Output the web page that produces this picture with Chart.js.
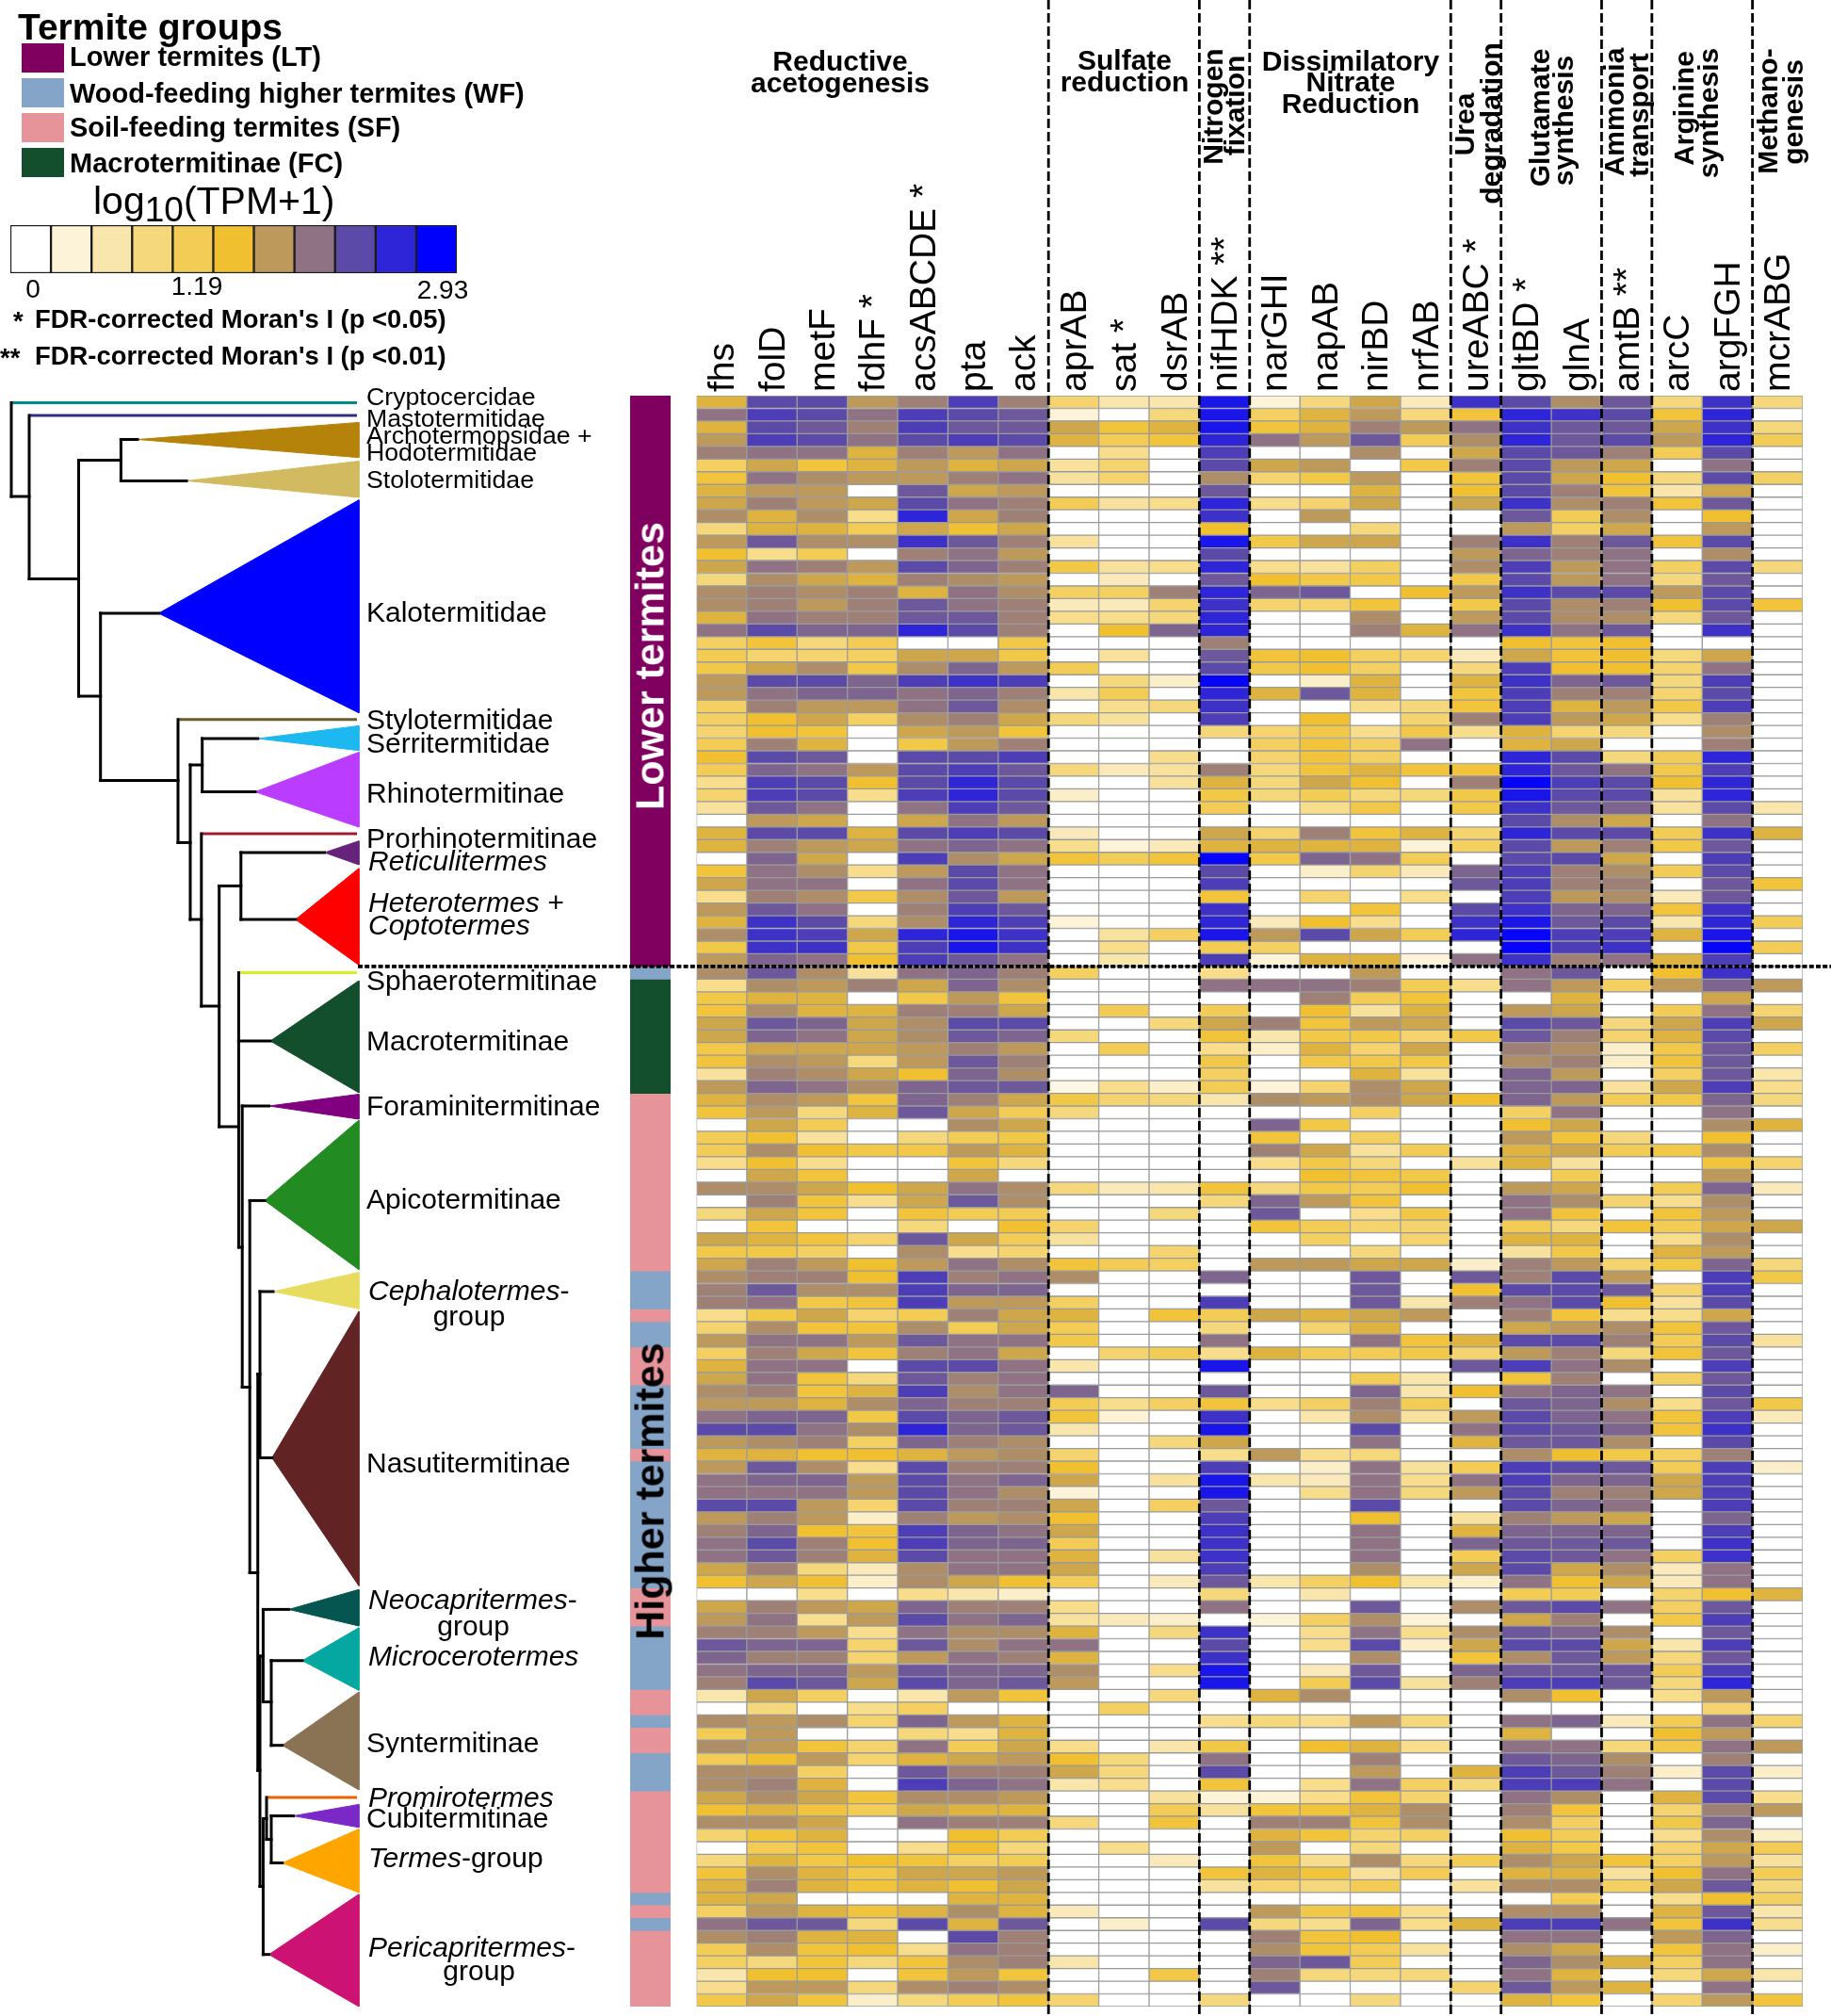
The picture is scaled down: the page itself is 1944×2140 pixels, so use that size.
<!DOCTYPE html>
<html><head><meta charset="utf-8">
<script src="https://cdn.jsdelivr.net/npm/chart.js@4"></script>
<style>
html,body{margin:0;padding:0;background:#fff;width:1944px;height:2140px;overflow:hidden;font-family:"Liberation Sans",Arial,sans-serif}
canvas{position:absolute}
.t{position:absolute;white-space:nowrap;line-height:1;color:#000;transform:translateY(-50%)}
.c{transform:translate(-50%,-50%)}
.r{transform:translate(-50%,-50%) rotate(-90deg)}
.b{font-weight:bold}
.i{font-style:italic}
</style></head><body>
<div id="page"></div>
<script>
const genes=["fhs","folD","metF","fdhF *","acsABCDE *","pta","ack","aprAB","sat *","dsrAB","nifHDK **","narGHI","napAB","nirBD","nrfAB","ureABC *","gltBD *","glnA","amtB **","arcC","argFGH","mcrABG"];
const groupBoundaries=[7,10,11,15,16,18,19,21];
// log10(TPM+1) x 10; columns follow genes
const rows=[
[16,24,24,18,20,25,20,10,6,6,28,3,9,17,5,26,24,19,23,9,26,9],
[21,25,24,21,25,24,23,3,0,9,28,11,16,18,9,14,27,26,24,14,27,0],
[16,24,23,20,25,23,23,17,14,16,28,14,16,20,18,21,26,23,23,17,26,9],
[18,25,24,21,24,25,24,16,12,14,27,21,18,23,12,19,27,23,24,18,27,12],
[20,21,21,16,20,18,21,0,8,0,25,0,0,19,0,17,24,23,20,12,24,0],
[11,17,14,16,18,16,17,7,10,0,24,17,18,0,13,20,24,18,17,0,21,0],
[14,21,19,18,18,20,21,7,10,0,19,10,13,18,0,14,24,17,15,9,24,11],
[16,18,18,0,23,17,18,0,0,0,23,0,0,16,0,15,24,20,14,6,17,0],
[17,20,18,17,24,21,20,12,7,8,27,8,10,17,0,17,26,19,20,14,23,0],
[19,16,19,8,27,17,20,0,0,0,26,0,18,0,0,0,23,12,19,0,15,0],
[9,16,16,12,17,15,17,0,0,0,15,0,0,9,0,0,18,11,17,0,18,0],
[18,23,19,19,26,23,20,7,0,0,28,13,17,17,0,20,26,20,23,14,24,0],
[15,8,12,0,20,21,18,0,0,0,24,0,0,0,0,18,22,20,21,0,19,0],
[17,21,20,18,24,22,20,13,7,8,27,8,7,11,0,19,25,18,21,11,24,9],
[9,19,17,16,20,19,18,0,5,0,23,15,13,13,0,13,24,18,21,9,23,0],
[19,20,19,20,16,21,19,11,11,20,27,22,23,0,15,18,26,24,24,18,24,0],
[19,20,18,20,23,21,20,5,5,10,26,10,10,14,0,13,24,19,20,15,24,14],
[16,21,20,20,23,23,20,8,8,9,27,0,0,19,0,18,24,19,19,9,23,0],
[21,24,22,22,27,24,20,0,15,22,27,0,0,20,16,21,26,21,23,0,26,0],
[11,14,9,12,0,0,13,0,0,0,20,0,0,0,0,0,15,14,15,0,0,0],
[12,10,10,11,17,17,13,0,7,0,23,14,15,11,10,5,17,14,15,9,17,0],
[13,17,19,13,19,22,18,12,0,0,24,13,15,11,0,9,25,15,15,10,21,0],
[18,24,24,22,25,26,25,0,9,4,29,0,4,16,0,16,26,22,23,9,25,0],
[18,21,22,22,21,22,20,6,12,0,27,16,23,16,0,14,25,20,20,10,24,0],
[11,20,18,18,21,23,19,0,8,9,26,0,0,8,9,14,25,16,18,13,25,0],
[11,15,17,11,19,20,17,9,7,0,25,0,15,0,10,20,25,18,17,8,20,0],
[10,15,14,0,17,18,14,0,0,0,9,10,13,8,13,8,16,10,9,0,19,0],
[12,20,16,0,13,18,20,0,0,0,0,11,14,11,21,0,16,17,0,0,20,0],
[15,24,23,0,24,24,25,0,0,8,0,10,14,11,0,0,27,24,9,12,27,0],
[12,22,21,18,24,25,23,9,5,7,20,9,14,16,14,14,27,23,21,13,25,0],
[8,25,24,15,24,27,24,0,0,7,16,9,17,15,0,20,29,25,24,15,27,0],
[10,25,24,8,25,27,24,4,0,0,13,9,12,9,9,13,28,24,24,7,27,0],
[7,23,21,0,21,25,23,0,0,0,12,0,8,13,0,13,26,23,22,7,24,6],
[0,18,17,0,17,21,18,0,0,0,0,0,0,0,0,0,24,19,17,0,21,0],
[16,24,24,16,24,25,24,5,0,0,17,10,20,14,16,10,27,24,24,12,26,16],
[16,20,18,17,21,22,21,8,3,5,16,16,16,16,3,11,24,18,20,13,23,0],
[0,22,17,0,25,19,17,14,12,14,29,13,22,21,12,0,24,24,17,0,25,0],
[14,21,19,8,18,24,21,0,0,0,24,0,4,10,5,22,25,20,19,12,24,0],
[17,21,21,0,21,24,21,0,0,0,25,0,0,0,0,23,25,20,20,0,23,14],
[8,20,19,13,19,23,18,0,0,0,14,0,10,0,8,0,25,18,19,5,23,0],
[18,23,21,0,20,25,23,0,0,0,26,0,0,14,0,24,26,22,22,14,26,0],
[16,26,24,9,19,27,25,3,0,0,27,5,15,8,0,26,28,23,24,6,27,12],
[19,26,25,17,27,28,26,0,7,11,28,18,24,17,12,27,29,25,25,16,28,0],
[13,26,26,13,25,28,26,0,8,0,12,11,0,0,0,0,29,25,26,0,29,12],
[18,22,21,15,25,23,21,0,6,0,25,3,16,16,3,21,26,20,21,16,25,0],
[19,23,19,7,21,22,20,11,0,0,8,0,0,18,0,0,21,23,0,15,26,0],
[8,19,18,20,17,22,19,0,0,0,21,21,21,20,12,8,21,18,11,18,22,18],
[13,16,16,0,13,18,14,0,0,0,0,0,20,12,14,0,0,16,0,0,17,0],
[14,19,16,16,20,20,17,0,12,0,12,0,15,7,16,0,18,17,0,12,21,10],
[17,23,22,17,19,24,24,0,0,9,17,20,14,18,17,0,24,23,9,17,25,17],
[17,22,21,17,19,23,22,9,0,0,14,6,13,13,10,13,23,20,10,16,24,0],
[13,17,17,17,18,20,18,0,12,0,8,4,16,10,17,0,20,19,4,13,23,11],
[14,19,18,9,18,23,20,0,0,0,13,0,13,13,13,0,19,20,4,14,23,0],
[7,20,19,17,15,22,19,0,0,0,11,0,0,16,7,0,22,18,0,11,23,6],
[18,22,21,19,22,23,23,2,8,4,12,3,10,19,17,0,22,22,7,17,25,8],
[16,19,18,14,22,20,17,13,10,9,6,19,18,19,17,15,22,18,12,13,22,9],
[14,18,9,16,23,17,12,9,0,0,0,0,0,11,0,0,11,21,0,0,21,0],
[0,17,12,0,0,19,17,0,0,0,0,22,13,0,0,0,15,17,0,0,19,16],
[12,15,7,0,9,12,13,0,0,0,0,14,0,11,0,0,18,14,9,0,15,0],
[12,19,15,13,13,18,16,0,0,0,0,20,17,7,12,0,16,17,12,13,19,0],
[8,15,8,0,0,14,9,0,0,0,0,8,13,9,0,7,16,7,0,0,14,10],
[0,17,14,0,0,17,0,0,0,0,0,0,15,14,13,0,0,12,0,0,18,0],
[19,19,17,15,17,21,19,9,5,6,14,9,13,12,15,0,18,17,0,12,22,5],
[0,20,14,8,17,23,19,0,0,0,9,22,18,14,0,0,21,19,10,8,19,0],
[9,17,14,0,14,12,12,0,0,9,0,23,0,8,13,0,21,14,0,14,18,0],
[0,14,0,0,9,0,15,10,0,0,0,14,12,10,10,0,12,9,14,12,17,17],
[17,16,14,10,23,17,12,7,0,0,0,0,11,0,10,0,16,16,0,8,19,0],
[13,13,11,0,19,8,10,0,0,10,0,0,0,9,0,0,7,13,0,16,18,0],
[17,20,18,15,18,21,19,14,12,11,0,18,18,17,17,4,20,18,10,13,22,9],
[19,20,20,15,25,20,21,19,0,0,22,0,0,23,0,23,20,24,18,0,25,13],
[20,23,19,19,25,22,22,0,0,0,0,0,0,23,0,15,24,24,23,10,25,0],
[20,21,13,14,25,18,18,11,0,0,25,0,0,23,6,20,21,24,15,7,24,0],
[8,13,17,10,12,20,17,16,0,14,12,17,16,17,18,0,20,14,8,8,17,0],
[10,19,14,14,19,12,17,12,0,0,9,0,10,16,0,0,17,18,19,14,23,0],
[18,21,21,18,23,21,21,13,0,0,21,0,0,21,14,16,24,24,20,12,24,7],
[11,20,17,14,20,21,17,0,10,12,8,16,12,12,13,10,18,20,9,14,23,0],
[16,21,21,0,24,24,21,6,0,0,28,0,0,0,0,23,25,21,19,0,25,0],
[17,21,14,9,23,20,21,0,0,0,0,0,0,12,6,0,14,20,0,11,23,0],
[19,20,14,16,25,19,21,22,0,0,23,0,0,22,6,15,21,22,21,0,24,0],
[18,18,16,19,22,20,20,12,8,11,14,8,11,20,12,0,23,22,19,8,23,13],
[21,22,22,13,24,22,23,14,3,0,26,0,6,19,7,18,24,22,21,14,25,5],
[24,24,21,19,27,22,23,6,0,0,28,0,0,24,0,21,24,23,22,14,26,0],
[18,19,20,11,22,20,19,0,0,9,17,0,0,21,0,16,23,23,19,0,24,0],
[16,16,15,15,16,18,19,10,0,0,8,18,8,9,0,0,19,15,13,11,20,0],
[18,23,19,8,24,20,20,15,0,0,25,0,4,21,7,12,25,24,23,12,25,4],
[21,22,22,18,24,21,22,17,0,7,28,6,5,21,8,21,25,22,22,17,25,0],
[21,21,21,18,24,21,19,3,0,0,28,0,8,21,9,18,24,20,20,17,25,0],
[24,24,18,10,24,20,20,17,0,11,23,0,0,24,0,0,24,22,21,0,25,0],
[18,20,18,4,20,18,19,15,0,0,25,0,0,15,0,7,20,18,17,0,22,0],
[20,22,15,14,25,22,21,17,0,0,26,0,0,21,0,16,22,22,22,0,25,0],
[21,24,20,15,25,22,22,12,0,0,26,0,0,21,0,22,23,23,23,0,26,0],
[21,23,20,16,24,21,21,16,0,7,26,0,0,21,0,12,24,23,21,11,26,0],
[17,20,9,5,19,21,21,17,0,0,25,0,0,19,0,17,24,17,19,5,21,0],
[15,17,15,4,19,17,15,12,0,5,23,6,11,15,6,4,21,15,17,5,21,0],
[0,0,8,0,8,6,4,0,0,0,9,0,6,0,0,0,12,12,0,10,15,16],
[17,20,18,17,22,20,20,8,0,0,21,0,0,23,0,19,23,24,21,11,23,0],
[18,21,8,18,24,21,22,7,5,4,0,3,11,19,3,0,17,20,0,13,25,0],
[20,20,18,8,21,19,19,16,0,9,26,0,8,21,8,19,23,22,19,0,23,0],
[23,22,22,10,23,19,21,21,0,0,24,0,8,24,4,17,24,24,17,6,25,0],
[22,20,20,10,18,21,20,16,0,0,26,0,0,19,0,14,19,23,18,9,23,0],
[21,22,22,18,23,22,22,19,0,8,28,0,5,23,0,22,23,23,23,12,25,0],
[20,24,23,17,24,22,23,18,0,0,28,0,12,24,7,20,25,25,23,9,27,0],
[6,17,11,0,6,18,14,0,0,9,0,16,19,0,0,0,19,15,0,8,18,0],
[0,9,0,8,11,0,0,0,11,0,0,0,0,0,0,0,0,0,0,0,10,0],
[19,18,19,10,22,18,16,0,0,0,8,9,8,18,9,0,21,22,5,12,21,10],
[12,18,0,0,9,8,16,0,0,0,0,0,0,0,0,0,16,0,0,15,18,0],
[19,18,14,10,21,12,17,8,0,6,13,0,15,16,8,0,21,21,9,13,21,18],
[12,15,18,10,16,17,18,15,9,0,21,0,0,20,0,0,23,22,19,0,20,0],
[19,19,11,0,23,20,20,17,9,0,24,0,0,18,0,16,25,23,20,4,24,4],
[19,20,16,0,25,22,21,6,8,0,14,0,8,21,11,9,25,25,21,0,24,0],
[17,19,17,14,19,19,18,0,0,7,3,3,8,14,10,0,21,19,0,16,24,8],
[15,16,14,12,17,16,16,0,0,12,7,14,14,16,19,0,20,14,0,10,20,18],
[19,19,17,0,21,20,20,9,0,14,0,20,20,14,19,0,19,11,0,13,22,0],
[10,14,16,0,0,15,12,0,0,0,0,16,14,10,11,0,15,12,0,8,19,4],
[0,12,14,0,8,15,9,0,8,0,0,18,0,9,0,0,16,13,0,10,17,12],
[9,16,13,15,14,11,12,0,0,5,0,14,8,19,9,12,19,17,14,11,18,7],
[14,19,16,13,17,17,18,0,0,0,14,16,14,7,12,0,16,16,7,15,21,12],
[16,20,16,14,16,15,17,0,0,0,7,10,9,12,0,7,19,19,11,17,23,9],
[16,17,0,0,0,16,16,0,0,0,0,0,0,0,0,0,0,12,0,8,15,11],
[11,18,16,14,16,19,16,5,0,0,0,18,13,14,8,0,19,19,0,16,23,6],
[21,23,23,9,24,16,23,0,4,0,24,9,8,22,8,16,25,25,21,14,26,8],
[19,20,16,16,0,24,20,0,0,0,0,20,14,15,0,0,21,21,0,18,22,0],
[12,19,14,15,8,21,20,0,0,0,0,19,14,12,7,0,19,17,0,14,21,4],
[11,9,14,9,14,19,20,6,0,0,0,22,23,12,0,0,22,19,16,11,21,0],
[6,15,15,0,14,18,14,0,0,13,0,20,9,9,9,0,21,16,0,9,17,6],
[8,18,18,9,19,20,19,0,0,0,0,23,0,0,0,10,23,18,16,0,21,0],
[13,17,14,4,9,12,14,10,0,0,9,0,0,9,0,0,16,14,0,10,18,14]
];
const colorbarValues=[0,.3,.6,.9,1.2,1.5,1.8,2.1,2.4,2.7,2.93];
const colorbarColors=["#FFFFFF","#FCF3D8","#F9E6AC","#F6D87C","#F3CC55","#F0C030","#BD9A5C","#8F7384","#5C4AA8","#2E25D8","#0000FF"];
const colorbarTicks=[["0",35,307],["1.19",209,304],["2.93",470,308]];
// sidebar: number of rows per consecutive feeding group
const sidebarGroups=["LT","WF","FC","SF","WF","SF","WF","SF","WF","SF","WF","SF","WF","SF","WF","SF","WF","SF","WF","SF","WF","SF"];
const sidebarCounts=[45,1,9,14,3,1,2,3,5,1,10,3,5,2,1,2,3,8,1,1,1,6];
const groupNames={LT:"Lower termites (LT)",WF:"Wood-feeding higher termites (WF)",SF:"Soil-feeding termites (SF)",FC:"Macrotermitinae (FC)"};
const groupColors={LT:"#800060",WF:"#84A4C8",SF:"#E6949A",FC:"#134F2C"};
// tree, in tree-layout units
const treeBranches=[
[[12,527],[12,427.5]],[[12,527],[31,527]],[[31,441],[31,614.6]],[[31,614.6],[83.5,614.6]],
[[83.5,488.4],[83.5,739]],[[83.5,488.4],[128.4,488.4]],[[128.4,466.5],[128.4,510.4]],[[128.4,466.5],[146,466.5]],[[128.4,510.4],[198,510.4]],
[[83.5,739],[106.7,739]],[[106.7,651],[106.7,828.5]],[[106.7,651],[168.5,651]],[[106.7,828.5],[189,828.5]],
[[189,763.8],[189,894.4]],[[189,894.4],[202,894.4]],[[202,812],[202,976]],[[202,812],[214.7,812]],[[214.7,784],[214.7,840.6]],[[214.7,784],[273.7,784]],[[214.7,840.6],[271,840.6]],
[[202,976],[213.8,976]],[[213.8,885],[213.8,1068]],[[213.8,1068],[232.7,1068]],[[232.7,940.4],[232.7,1196]],[[232.7,940.4],[255.8,940.4]],[[255.8,905],[255.8,976]],[[255.8,905],[344.5,905]],[[255.8,976],[313.8,976]],
[[232.7,1196],[253.4,1196]],[[253.4,1032.6],[253.4,1324]],[[253.4,1105],[287,1105]],[[253.4,1324],[257.2,1324]],[[257.2,1174],[257.2,1472.5]],[[257.2,1174],[285.5,1174]],
[[257.2,1472.5],[265.2,1472.5]],[[265.2,1274.4],[265.2,1669.5]],[[265.2,1274.4],[281,1274.4]],[[265.2,1669.5],[273.7,1669.5]],[[273.7,1458.7],[273.7,1879.3]],[[273.7,1458.7],[276,1458.7]],
[[276,1371],[276,1547.5]],[[276,1371],[290,1371]],[[276,1547.5],[288.8,1547.5]],[[273.7,1879.3],[276,1879.3]],[[276,1758],[276,2002.5]],[[276,1758],[279.4,1758]],[[279.4,1708.4],[279.4,1806.6]],[[279.4,1708.4],[306.7,1708.4]],
[[279.4,1806.6],[288,1806.6]],[[288,1762.8],[288,1852.7]],[[288,1762.8],[321,1762.8]],[[288,1852.7],[299.7,1852.7]],
[[276,2002.5],[279.4,2002.5]],[[279.4,1930.4],[279.4,2074.7]],[[279.4,1930.4],[283,1930.4]],[[283,1908],[283,1952.6]],[[283,1952.6],[288,1952.6]],[[288,1927.6],[288,1977.5]],[[288,1927.6],[311.5,1927.6]],[[288,1977.5],[299.7,1977.5]],[[279.4,2074.7],[285.5,2074.7]]
];
const treeTips=[["#008B8B",12,379,427.5],["#2F2F7F",31,379,441],["#6B5B2E",189,379,763.8],["#A01C30",213.8,379,885],["#D4F020",253.4,379,1032.6],["#F06000",283,379,1908]];
const treeClades=[
["#B5830A",146,466.5,381,448.4,485.7],["#D2BA60",198,510.4,381,489.5,528],["#0000FF",168.5,651,381,530.7,756.7],["#1EB8F0",273.7,784,381,770.4,796.7],["#B93CFF",271,840.6,381,798.4,878],
["#66237A",344.5,905,381,892.7,918],["#FF0000",313.8,976,381,921.8,1024.4],["#134F2C",287,1105,381,1041,1160],["#800080",285.5,1174,381,1161.5,1188],["#228B22",281,1274.4,381,1189,1347.7],
["#E8DC60",290,1371,381,1350.5,1389.3],["#612323",288.8,1547.5,381,1392,1683.4],["#055550",306.7,1708.4,381,1687.3,1726],["#05A8A0",321,1762.8,381,1727.8,1794.4],["#8A7355",299.7,1852.7,381,1796,1900],
["#7B28C8",311.5,1927.6,381,1915.4,1939.8],["#FFA500",299.7,1977.5,381,1941.5,2009],["#CC1272",285.5,2074.7,381,2010.8,2130]
];
const cladeLabelsSmall=[["Cryptocercidae",389,421],["Mastotermitidae",389,444],["Archotermopsidae +",389,462],["Hodotermitidae",389,480],["Stolotermitidae",389,509]];
const cladeLabels=[
["Kalotermitidae",389,650],
["Stylotermitidae",389,764],["Serritermitidae",389,788.5],["Rhinotermitinae",389,842],["Prorhinotermitinae",389,890],["<i>Reticulitermes</i>",391,913.6],["<i>Heterotermes +</i>",391,958],["<i>Coptotermes</i>",391,981.6],
["Sphaerotermitinae",389,1041],["Macrotermitinae",389,1105],["Foraminitermitinae",389,1173.6],["Apicotermitinae",389,1273],["<i>Cephalotermes</i>-",391,1370],["Nasutitermitinae",389,1553],
["<i>Neocapritermes</i>-",391,1698.4],["<i>Microcerotermes</i>",391,1758],["Syntermitinae",389,1850],["<i>Promirotermes</i>",391,1908],["Cubitermitinae",389,1930],["<i>Termes</i>-group",391,1972],["<i>Pericapritermes</i>-",391,2067]
];
const cladeLabelsCentered=[["group",498,1396.5],["group",502.6,1726],["group",508.7,2092]];
const pathwayHorizontal=[["Reductive",892,65],["acetogenesis",892,88],["Sulfate",1194,64],["reduction",1194,87],["Dissimilatory",1434,65],["Nitrate",1434,87],["Reduction",1434,110]];
const pathwayRotated=[["Nitrogen",1288,113],["fixation",1311,112],["Urea",1555,132],["degradation",1583,131],["Glutamate",1635,125],["synthesis",1660,128],["Ammonia",1714,119],["transport",1740,122],["Arginine",1788,115],["synthesis",1814,120],["Methano-",1877,118],["genesis",1904,119]];

const FONT='"Liberation Sans",Arial,sans-serif';
Chart.defaults.font.family=FONT;
Chart.defaults.animation=false;
Chart.defaults.responsive=false;
Chart.defaults.plugins.legend.display=false;
Chart.defaults.plugins.tooltip.enabled=false;
const page=document.getElementById('page');
function hex(c){return [1,3,5].map(i=>parseInt(c.substr(i,2),16));}
function colorOf(v){
  if(v<=0)return colorbarColors[0];
  for(let i=1;i<colorbarValues.length;i++){
    if(v<=colorbarValues[i]){
      const f=(v-colorbarValues[i-1])/(colorbarValues[i]-colorbarValues[i-1]);
      const a=hex(colorbarColors[i-1]),b=hex(colorbarColors[i]);
      return 'rgb('+a.map((x,k)=>Math.round(x+(b[k]-x)*f)).join(',')+')';
    }
  }
  return colorbarColors[colorbarColors.length-1];
}
function mk(l,t,w,h){const c=document.createElement('canvas');c.width=w;c.height=h;c.style.cssText='left:'+l+'px;top:'+t+'px;width:'+w+'px;height:'+h+'px';page.appendChild(c);return c;}
function txt(html,x,y,size,cls){const d=document.createElement('div');d.className='t '+(cls||'');d.style.left=x+'px';d.style.top=y+'px';d.style.fontSize=size+'px';d.innerHTML=html;page.appendChild(d);return d;}

// feeding-group sidebar
new Chart(mk(669,420,43,1710),{type:'bar',
  data:{labels:['group'],datasets:sidebarCounts.map((n,i)=>({data:[n],backgroundColor:groupColors[sidebarGroups[i]],borderWidth:0,barPercentage:1,categoryPercentage:1}))},
  options:{devicePixelRatio:1,layout:{padding:0},scales:{x:{display:false,stacked:true},y:{display:false,stacked:true,reverse:true,min:0,max:rows.length}}}});

// tree
const treeSets=[];
treeBranches.forEach(b=>treeSets.push({data:b.map(p=>({x:p[0],y:p[1]})),showLine:true,borderColor:'#000',borderWidth:3,pointRadius:0,borderCapStyle:'square'}));
treeTips.forEach(t=>treeSets.push({data:[{x:t[1],y:t[3]},{x:t[2],y:t[3]}],showLine:true,borderColor:t[0],borderWidth:3,pointRadius:0}));
treeClades.forEach(c=>treeSets.push({data:[{x:c[1],y:c[2]},{x:c[3],y:c[4]},{x:c[3],y:c[5]},{x:c[1],y:c[2]}],showLine:true,fill:'shape',backgroundColor:c[0],borderColor:c[0],borderWidth:1,pointRadius:0,tension:0}));
new Chart(mk(0,0,1944,2140),{type:'scatter',data:{datasets:treeSets},
  options:{devicePixelRatio:1,layout:{padding:0},plugins:{filler:{propagate:false}},scales:{x:{display:false,type:'linear',min:0,max:1944},y:{display:false,type:'linear',min:0,max:2140,reverse:true}}}});

// heat map
const dashPlugin={id:'dash',afterDatasetsDraw(ch){
  const c=ch.ctx,x=ch.scales.x,y=ch.scales.y;
  c.save();c.strokeStyle='#000';c.lineWidth=2.8;c.setLineDash([10,4]);
  groupBoundaries.forEach(b=>{const p=x.getPixelForValue(b);c.beginPath();c.moveTo(p,0);c.lineTo(p,2140);c.stroke();});
  const yp=(y.getPixelForValue(44)+y.getPixelForValue(45))/2;
  c.lineWidth=3.6;c.setLineDash([5,2.2]);c.beginPath();c.moveTo(380,yp);c.lineTo(1944,yp);c.stroke();
  c.restore();
}};
new Chart(mk(0,0,1944,2140),{type:'bar',plugins:[dashPlugin],
  data:{labels:rows.map((r,i)=>i+1),datasets:genes.map((g,j)=>({label:g,data:rows.map(()=>1),
    backgroundColor:rows.map(r=>colorOf(r[j]/10)),borderColor:'#9b9b9b',borderWidth:1,borderSkipped:false,barPercentage:1,categoryPercentage:1}))},
  options:{devicePixelRatio:1,indexAxis:'y',layout:{padding:{left:739.5,right:30,top:0,bottom:10}},
    scales:{
      x:{display:false,stacked:true,min:0,max:genes.length},
      y:{display:false,stacked:true},
      genes:{type:'category',axis:'x',position:'top',labels:genes,offset:true,grid:{display:false,drawTicks:false},border:{display:false},
        ticks:{autoSkip:false,minRotation:90,maxRotation:90,labelOffset:49,color:'#000',padding:4,font:{size:39,family:FONT}},
        afterFit(s){s.height=420;}}
    }}});

// colour bar
new Chart(mk(11,239,474,51),{type:'bar',
  data:{labels:['bar'],datasets:colorbarValues.map((v,i)=>({data:[1],backgroundColor:colorbarColors[i],borderColor:'#1a1a1a',borderWidth:1.5,borderSkipped:false,barPercentage:1,categoryPercentage:1}))},
  options:{devicePixelRatio:1,indexAxis:'y',layout:{padding:0},scales:{x:{display:false,stacked:true,min:0,max:colorbarValues.length},y:{display:false,stacked:true}}}});

// text
txt('Termite groups',19,28,39,'b');
["LT","WF","SF","FC"].forEach((k,i)=>{
  const d=document.createElement('div');d.style.cssText='position:absolute;left:23px;top:'+[46,83,120,157][i]+'px;width:45px;height:31px;background:'+groupColors[k];page.appendChild(d);
  txt(groupNames[k],74,[60,99,135,173][i],29,'b');
});
txt('log<span style="font-size:37px;position:relative;top:8px">10</span>(TPM+1)',99,213,41);
colorbarTicks.forEach(t=>txt(t[0],t[1],t[2],28,'c'));
txt('*',14,341,27.4,'b');txt('FDR-corrected Moran\'s I (p &lt;0.05)',37,339,27.4,'b');
txt('**',0,380,27.4,'b');txt('FDR-corrected Moran\'s I (p &lt;0.01)',37,378,27.4,'b');
cladeLabelsSmall.forEach(l=>txt(l[0],l[1],l[2],26.7));
cladeLabels.forEach(l=>txt(l[0],l[1],l[2],30));
cladeLabelsCentered.forEach(l=>txt(l[0],l[1],l[2],30,'c'));
pathwayHorizontal.forEach(l=>txt(l[0],l[1],l[2],30,'b c'));
pathwayRotated.forEach(l=>txt(l[0],l[1],l[2],30,'b r'));
const lo=txt('Lower termites',690,707,43,'b r');lo.style.color='#fff';
txt('Higher termites',690,1583,43,'b r');
</script>
</body></html>
